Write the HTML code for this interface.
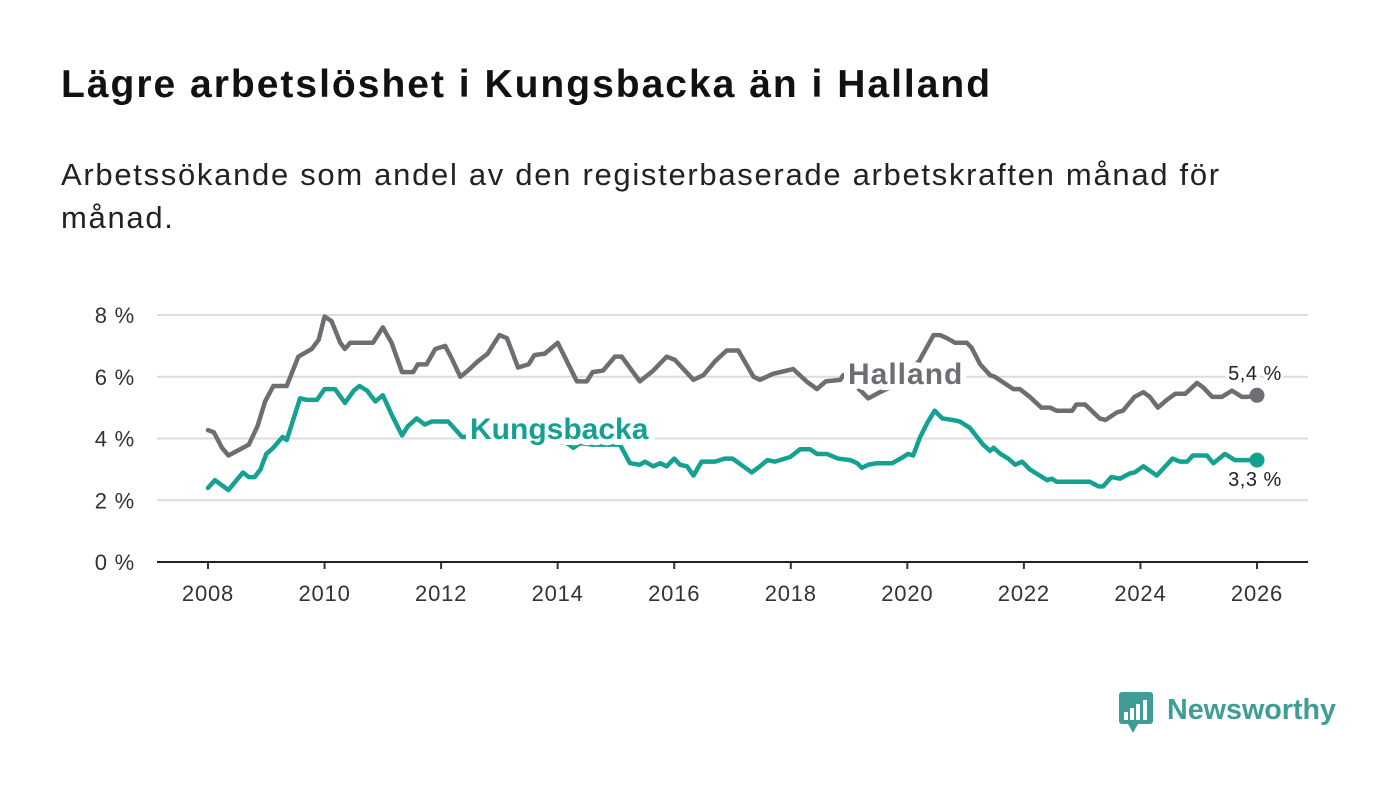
<!DOCTYPE html>
<html><head><meta charset="utf-8">
<style>
body{margin:0;background:#fff;width:1400px;height:794px;overflow:hidden;font-family:"Liberation Sans",sans-serif;}
h1{position:absolute;left:61px;top:63px;margin:0;font-size:39px;letter-spacing:2px;font-weight:bold;color:#111;white-space:nowrap;}
.sub{position:absolute;left:61px;top:153px;margin:0;font-size:31px;letter-spacing:1.7px;line-height:43px;color:#222;width:1240px;}
svg{position:absolute;left:0;top:0;}
</style></head><body>
<h1>Lägre arbetslöshet i Kungsbacka än i Halland</h1>
<p class="sub">Arbetssökande som andel av den registerbaserade arbetskraften månad för månad.</p>
<svg id="chart" width="1400" height="794"></svg>
<script>
const yTicks=[0,2,4,6,8];
const xTicks=[2008,2010,2012,2014,2016,2018,2020,2022,2024,2026];
const hallandX=[2008.0,2008.1,2008.24,2008.35,2008.5,2008.7,2008.85,2008.98,2009.12,2009.35,2009.55,2009.78,2009.9,2010.0,2010.12,2010.27,2010.35,2010.44,2010.83,2011.0,2011.15,2011.33,2011.52,2011.6,2011.75,2011.9,2012.07,2012.18,2012.33,2012.46,2012.63,2012.8,2013.0,2013.13,2013.32,2013.5,2013.6,2013.78,2014.0,2014.33,2014.5,2014.6,2014.78,2014.98,2015.1,2015.41,2015.64,2015.87,2016.01,2016.33,2016.5,2016.7,2016.9,2017.1,2017.36,2017.47,2017.7,2017.82,2018.04,2018.27,2018.45,2018.6,2018.85,2018.9,2019.2,2019.33,2019.53,2019.75,2020.2,2020.45,2020.56,2020.68,2020.82,2021.02,2021.1,2021.25,2021.42,2021.5,2021.82,2021.93,2022.1,2022.3,2022.45,2022.56,2022.83,2022.9,2023.05,2023.3,2023.4,2023.6,2023.7,2023.9,2024.05,2024.16,2024.3,2024.45,2024.6,2024.77,2024.97,2025.08,2025.23,2025.4,2025.57,2025.74,2025.85,2026.0];
const hallandY=[4.27,4.2,3.7,3.45,3.6,3.8,4.4,5.2,5.7,5.7,6.65,6.9,7.2,7.95,7.8,7.1,6.9,7.1,7.1,7.6,7.1,6.15,6.15,6.4,6.4,6.9,7.0,6.6,6.0,6.2,6.5,6.75,7.35,7.25,6.3,6.4,6.7,6.75,7.1,5.85,5.85,6.15,6.2,6.65,6.65,5.85,6.2,6.65,6.55,5.9,6.05,6.5,6.85,6.85,6.0,5.9,6.1,6.15,6.25,5.85,5.6,5.85,5.9,6.05,5.55,5.3,5.5,5.7,6.5,7.35,7.35,7.25,7.1,7.1,6.95,6.4,6.05,6.0,5.6,5.6,5.35,5.0,5.0,4.9,4.9,5.1,5.1,4.65,4.6,4.85,4.9,5.35,5.5,5.35,5.0,5.25,5.45,5.45,5.8,5.65,5.35,5.35,5.55,5.35,5.35,5.4];
const kungsX=[2008.0,2008.12,2008.35,2008.6,2008.7,2008.8,2008.9,2009.0,2009.12,2009.28,2009.35,2009.58,2009.7,2009.87,2010.0,2010.18,2010.35,2010.5,2010.6,2010.73,2010.87,2011.0,2011.17,2011.33,2011.43,2011.58,2011.72,2011.84,2012.12,2012.36,2012.8,2013.4,2014.0,2014.16,2014.27,2014.38,2014.6,2015.07,2015.24,2015.41,2015.5,2015.64,2015.76,2015.87,2016.0,2016.1,2016.22,2016.33,2016.47,2016.7,2016.87,2017.0,2017.33,2017.47,2017.6,2017.73,2017.99,2018.16,2018.33,2018.45,2018.62,2018.81,2019.02,2019.14,2019.22,2019.33,2019.48,2019.74,2019.93,2020.01,2020.1,2020.22,2020.34,2020.47,2020.6,2020.78,2020.9,2021.07,2021.3,2021.42,2021.48,2021.6,2021.73,2021.85,2021.97,2022.1,2022.4,2022.48,2022.56,2023.13,2023.28,2023.36,2023.5,2023.65,2023.82,2023.9,2024.05,2024.28,2024.55,2024.68,2024.8,2024.9,2025.14,2025.25,2025.45,2025.62,2025.83,2026.0];
const kungsY=[2.4,2.65,2.33,2.9,2.75,2.75,3.0,3.5,3.7,4.05,3.95,5.3,5.25,5.25,5.6,5.6,5.15,5.55,5.7,5.55,5.2,5.4,4.7,4.1,4.4,4.65,4.45,4.55,4.55,4.05,4.1,4.0,3.9,3.85,3.7,3.85,3.8,3.8,3.2,3.15,3.25,3.1,3.2,3.1,3.35,3.15,3.1,2.8,3.25,3.25,3.35,3.35,2.9,3.1,3.3,3.25,3.4,3.65,3.65,3.5,3.5,3.35,3.3,3.2,3.05,3.15,3.2,3.2,3.4,3.5,3.45,4.05,4.5,4.9,4.65,4.6,4.55,4.35,3.8,3.6,3.7,3.5,3.35,3.15,3.25,3.0,2.65,2.7,2.6,2.6,2.45,2.45,2.75,2.7,2.87,2.9,3.1,2.8,3.35,3.25,3.25,3.45,3.45,3.2,3.5,3.3,3.3,3.3];
const NS='http://www.w3.org/2000/svg';
const svg=document.getElementById('chart');
const X0=157,X1=1308,Y0=562;
function sx(v){return 208+(v-2008)*(1257-208)/18;}
function sy(v){return Y0-v*(Y0-315)/8;}
function mk(tag,attrs,parent){const e=document.createElementNS(NS,tag);for(const k in attrs)e.setAttribute(k,attrs[k]);(parent||svg).appendChild(e);return e;}
yTicks.forEach(t=>{
  if(t>0){const g=mk('line',{x1:X0,x2:X1,y1:sy(t),y2:sy(t),stroke:'#dcdcdc','stroke-width':2});
  
  }
  const l=mk('text',{x:135,y:sy(t)+8,'text-anchor':'end','font-size':22,'letter-spacing':0.8,fill:'#333'});
  l.textContent=t+' %';
  
  
});
xTicks.forEach(t=>{
  const tk=mk('line',{x1:sx(t),x2:sx(t),y1:Y0,y2:Y0+7,stroke:'#333','stroke-width':2});
  
  
  const l=mk('text',{x:sx(t),y:601,'text-anchor':'middle','font-size':22,'letter-spacing':0.8,fill:'#333'});
  l.textContent=t;
  
  
});
const ax=mk('line',{x1:X0,x2:X1,y1:Y0,y2:Y0,stroke:'#222','stroke-width':2});


function series(xs,ys,color,name){
  const p=mk('polyline',{points:xs.map((x,i)=>sx(x)+','+sy(ys[i])).join(' '),fill:'none',stroke:color,'stroke-width':4.5,'stroke-linejoin':'round','stroke-linecap':'round'});
  
  
  const c=mk('circle',{cx:sx(xs[xs.length-1]),cy:sy(ys[ys.length-1]),r:7.5,fill:color});
  
  
}
series(hallandX,hallandY,'#6e6d72','halland');
series(kungsX,kungsY,'#15a192','kungsbacka');
function label(txt,x,y,color,size,bold,name,anchor,ls){
  const t=mk('text',{x:x,y:y,'font-size':size,'font-weight':bold?'bold':'normal','letter-spacing':ls||0,fill:color,stroke:'#fff','stroke-width':bold?12:6,'stroke-linejoin':'round','paint-order':'stroke','text-anchor':anchor||'start'});
  t.textContent=txt;
  
  
}
label('Halland',848,384,'#6e6d72',30,true,'halland-label','start',1);
label('Kungsbacka',470,439,'#15a192',30,true,'kungsbacka-label','start',0);
label('5,4 %',1255,380,'#222',20,false,'halland-end-value','middle',0.5);
label('3,3 %',1255,486,'#222',20,false,'kungsbacka-end-value','middle',0.5);
const lg=mk('g',{});


mk('rect',{x:1119,y:692,width:34,height:32,rx:3,fill:'#3e9d94'},lg);
mk('polygon',{points:'1128,724 1138,724 1133,733',fill:'#3e9d94'},lg);
[[1124,712,4,8],[1130,708,4,12],[1136,704,4,16],[1143,700,4,20]].forEach(b=>mk('rect',{x:b[0],y:b[1],width:b[2],height:b[3],fill:'#fff'},lg));
const lt=mk('text',{x:1167,y:719,'font-size':29,'font-weight':'bold',fill:'#3e9d94',textLength:169,lengthAdjust:'spacingAndGlyphs'},lg);
lt.textContent='Newsworthy';
</script>
</body></html>
